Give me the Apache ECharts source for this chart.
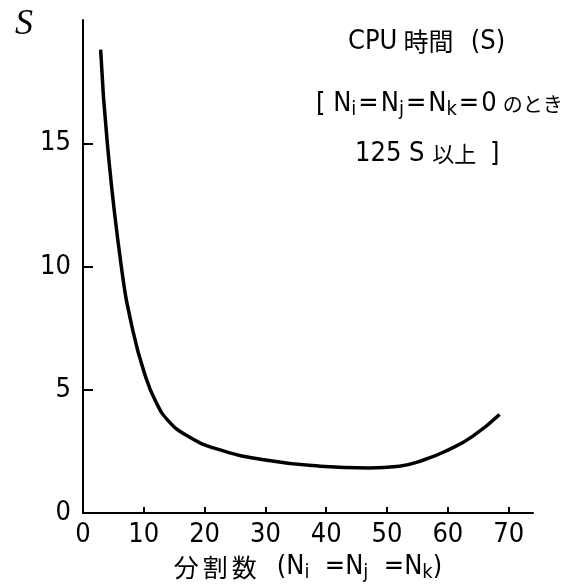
<!DOCTYPE html>
<html>
<head>
<meta charset="utf-8">
<script src="https://cdn.jsdelivr.net/npm/echarts@6/dist/echarts.min.js"></script>
<style>
html,body{margin:0;padding:0;background:#fff;}
#chart{width:575px;height:588px;}
</style>
</head>
<body>
<div id="chart"></div>
<script>
// Data
const divisions = [2.9, 4.0, 6.3, 8.2, 10.2, 12.0, 14.0, 17.0, 22.0, 30.0, 39.0, 47.0, 52.0, 56.0, 60.0, 64.0, 68.5];
const cpuTime   = [18.8, 15.0, 10.0, 7.4, 5.6, 4.5, 3.75, 3.15, 2.6, 2.15, 1.9, 1.83, 1.9, 2.15, 2.55, 3.1, 4.0];
const xTicks = [0, 10, 20, 30, 40, 50, 60, 70];
const yTicks = [0, 5, 10, 15];

const numFont = "'Liberation Sans Narrow','DejaVu Sans Condensed','Liberation Sans',sans-serif";
const cjkFont = "'Noto Sans CJK JP','Liberation Sans Narrow',sans-serif";

const chart = echarts.init(document.getElementById('chart'), null, {renderer: 'canvas'});
const seriesData = divisions.map((x, i) => [x, cpuTime[i]]);

const subStyle = {fontFamily: numFont, fontSize: 20, color: '#000', padding: [12, 0, 0, 0]};
const baseStyle = {fontFamily: numFont, fontSize: 27, color: '#000'};
const eqStyle = {fontFamily: numFont, fontSize: 27, color: '#000', padding: [0, 2, 0, 2]};
const cjkAxis = {fontFamily: cjkFont, fontSize: 25, color: '#000', padding: [0, 4, 0, 0]};

chart.setOption({
  animation: false,
  backgroundColor: '#fff',
  grid: {left: 83, right: 42, top: 20, bottom: 75, containLabel: false},
  xAxis: {
    type: 'value', min: 0, max: 74,
    splitLine: {show: false},
    axisLine: {show: true, onZero: false, lineStyle: {color: '#000', width: 2}},
    axisTick: {show: true, inside: true, length: 6, lineStyle: {color: '#000', width: 2},
               customValues: [10, 20, 30, 40, 50, 60, 70]},
    axisLabel: {customValues: xTicks, margin: 8, color: '#000', fontSize: 27, fontFamily: numFont},
    name: '{c|分}{c|割}{c|数}{g| }{b|(N}{s|i}{b|  =N}{s|j}{b|  =N}{s|k}{b|)}',
    nameLocation: 'middle', nameGap: 38,
    nameTextStyle: {
      rich: {
        c: cjkAxis,
        g: {fontSize: 27, width: 16},
        b: baseStyle,
        s: subStyle
      }
    }
  },
  yAxis: {
    type: 'value', min: 0, max: 20,
    splitLine: {show: false},
    axisLine: {show: true, onZero: false, lineStyle: {color: '#000', width: 2}},
    axisTick: {show: true, inside: true, length: 10, lineStyle: {color: '#000', width: 2},
               customValues: [5, 10, 15]},
    axisLabel: {customValues: yTicks, margin: 12, color: '#000', fontSize: 27, fontFamily: numFont}
  },
  graphic: [
    {type: 'text', left: 15, top: 7,
     style: {text: 'S', font: "italic 36px 'Liberation Serif','DejaVu Serif',serif", fill: '#000'}},
    {type: 'text', left: 348, top: 28,
     style: {text: '{a|CPU}{j|時間}{a|  (S)}',
       rich: {a: {fontFamily: numFont, fontSize: 27, color: '#000'},
              j: {fontFamily: cjkFont, fontSize: 25, color: '#000', padding: [0, 2, 0, 6]}}}},
    {type: 'text', left: 316, top: 90,
     style: {text: '{a|[ N}{s|i}{e|=}{a|N}{s|j}{e|=}{a|N}{s|k}{e|=}{a|0}{j|のとき}',
       rich: {a: baseStyle, s: subStyle, e: eqStyle,
              j: {fontFamily: cjkFont, fontSize: 20, color: '#000', padding: [2, 0, 0, 6]}}}},
    {type: 'text', left: 355, top: 140,
     style: {text: '{a|125 S }{j|以上}{a| ]}',
       rich: {a: baseStyle, j: {fontFamily: cjkFont, fontSize: 22, color: '#000', padding: [0, 6, 0, 0]}}}}
  ],
  series: [{
    type: 'line',
    data: seriesData,
    smooth: 0.5,
    showSymbol: false,
    lineStyle: {color: '#000', width: 3.5},
    silent: true
  }]
});
</script>
</body>
</html>
